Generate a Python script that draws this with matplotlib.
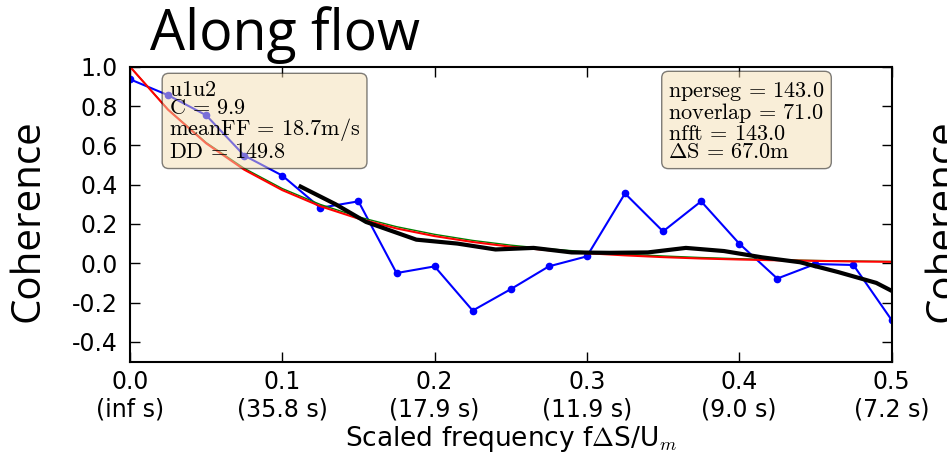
import matplotlib
matplotlib.use('Agg')
import matplotlib.pyplot as plt

plt.rcParams['mathtext.fontset'] = 'cm'
plt.rcParams['font.family'] = ['DejaVu Sans']
plt.rcParams['axes.unicode_minus'] = False

# scaled frequency bins
freq = [0.0, 0.025, 0.05, 0.075, 0.1, 0.125, 0.15, 0.175, 0.2, 0.225, 0.25,
        0.275, 0.3, 0.325, 0.35, 0.375, 0.4, 0.425, 0.45, 0.475, 0.5]
# measured coherence u1u2
coh_raw = [0.936, 0.855, 0.753, 0.548, 0.446, 0.282, 0.315, -0.05, -0.016,
           -0.241, -0.132, -0.016, 0.035, 0.355, 0.162, 0.315, 0.10, -0.078,
           -0.004, -0.009, -0.288]
# fitted decay curves (C = 9.9)
coh_fit = [1.0, 0.781, 0.610, 0.476, 0.372, 0.290, 0.227, 0.177, 0.138, 0.108,
           0.084, 0.066, 0.051, 0.040, 0.031, 0.024, 0.019, 0.015, 0.012,
           0.009, 0.007]
coh_fit2 = [1.0, 0.782, 0.614, 0.483, 0.380, 0.299, 0.236, 0.186, 0.147, 0.116,
            0.092, 0.073, 0.058, 0.046, 0.037, 0.029, 0.023, 0.018, 0.014,
            0.011, 0.009]
# smoothed coherence
freq_smooth = [0.112, 0.135, 0.155, 0.188, 0.215, 0.24, 0.265, 0.29, 0.315,
               0.34, 0.365, 0.39, 0.415, 0.44, 0.465, 0.49, 0.5]
coh_smooth = [0.39, 0.30, 0.21, 0.12, 0.10, 0.07, 0.078, 0.055, 0.053, 0.055,
              0.078, 0.062, 0.03, 0.005, -0.045, -0.10, -0.14]

xticks = [0.0, 0.1, 0.2, 0.3, 0.4, 0.5]
xticklabels = ['0.0\n(inf s)', '0.1\n(35.8 s)', '0.2\n(17.9 s)',
               '0.3\n(11.9 s)', '0.4\n(9.0 s)', '0.5\n(7.2 s)']
yticks = [-0.4, -0.2, 0.0, 0.2, 0.4, 0.6, 0.8, 1.0]
yticklabels = ['-0.4', '-0.2', '0.0', '0.2', '0.4', '0.6', '0.8', '1.0']

info_left = '\n'.join([r'$\mathrm{u1u2}$', r'$\mathrm{C}\,=\,9.9$',
                       r'$\mathrm{meanFF}\,=\,18.7\mathrm{m/s}$',
                       r'$\mathrm{DD}\,=\,149.8$'])
info_right = '\n'.join([r'$\mathrm{nperseg}\,=\,143.0$',
                        r'$\mathrm{noverlap}\,=\,71.0$',
                        r'$\mathrm{nfft}\,=\,143.0$',
                        r'$\Delta\mathrm{S}\,=\,67.0\mathrm{m}$'])

fig = plt.figure(figsize=(9.47, 4.55), dpi=100)
ax = fig.add_axes([130 / 947, 1 - 361.5 / 455, 761.5 / 947, 294.8 / 455])

ax.plot(freq, coh_raw, 'b-', marker='o', ms=4.5, lw=1.5)
ax.plot(freq, coh_fit2, color='green', lw=1.0)
ax.plot(freq, coh_fit, color='red', lw=1.5)
ax.plot(freq_smooth, coh_smooth, color='black', lw=3)

ax.set_xlim(0, 0.5)
ax.set_ylim(-0.5, 1.0)
ax.set_xticks(xticks)
ax.set_xticklabels(xticklabels, fontsize=17)
ax.set_yticks(yticks)
ax.set_yticklabels(yticklabels, fontsize=17)
ax.tick_params(direction='in', top=True, right=True, length=7, width=1)
ax.tick_params(axis='x', pad=6)
ax.tick_params(axis='y', pad=9)
for sp in ax.spines.values():
    sp.set_linewidth(1.5)

ax.set_xlabel(r'Scaled frequency f$\Delta$S/U$_m$', fontsize=19, labelpad=2)

box = dict(boxstyle='round', facecolor='wheat', alpha=0.5)
ax.text(0.051, 0.955, info_left, transform=ax.transAxes, fontsize=16,
        va='top', ha='left', linespacing=0.9, bbox=box)
ax.text(0.707, 0.955, info_right, transform=ax.transAxes, fontsize=16,
        va='top', ha='left', linespacing=0.9, bbox=box)

# slide titles
fig.text(150 / 947, 1 - 50 / 455, 'Along flow', family='Open Sans',
         fontsize=40, ha='left', va='baseline')
fig.text(8 / 947, 1 - 221 / 455, 'Coherence', family='Open Sans',
         fontsize=29, rotation=90, ha='left', va='center')
fig.text(923 / 947, 1 - 221 / 455, 'Coherence', family='Open Sans',
         fontsize=29, rotation=90, ha='left', va='center')

fig.savefig('out.png', dpi=100)
